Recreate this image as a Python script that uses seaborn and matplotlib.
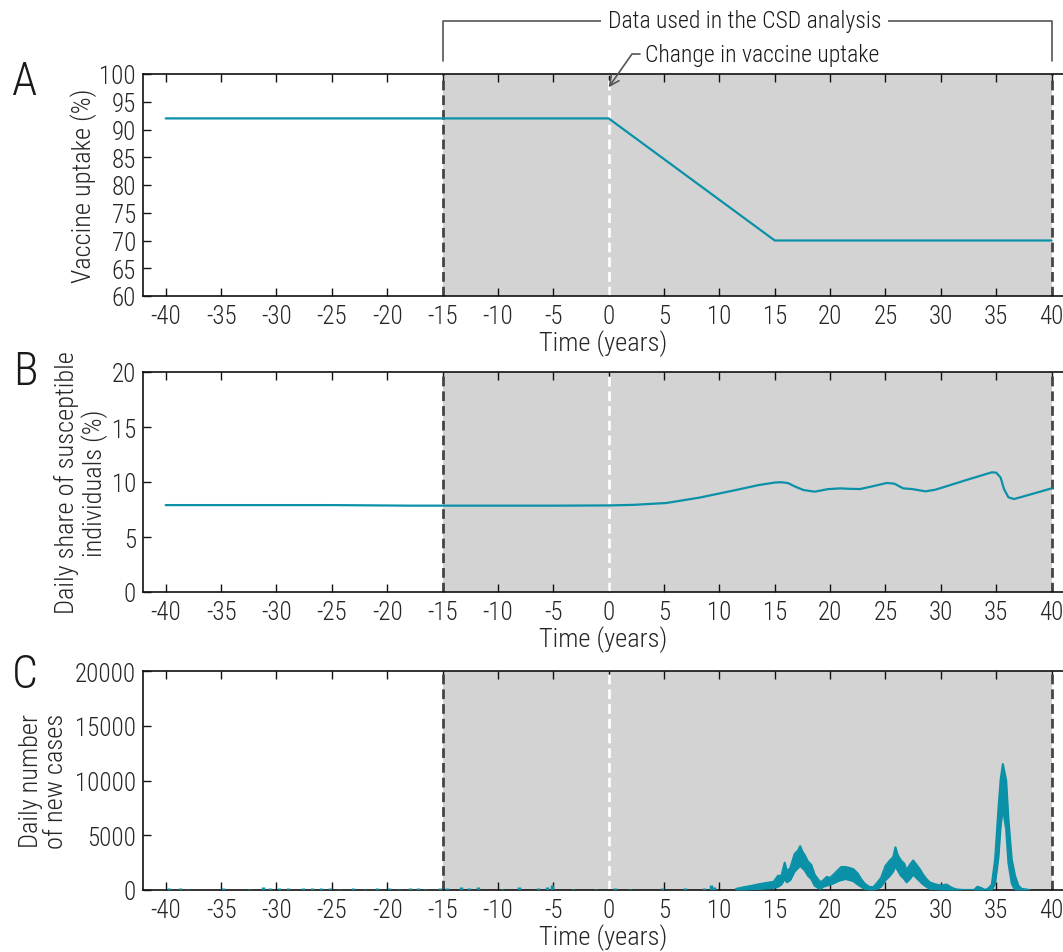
import matplotlib
matplotlib.use("Agg")
import matplotlib.pyplot as plt
import seaborn as sns
from matplotlib import font_manager
from matplotlib.transforms import blended_transform_factory

# ---- data ----
uptake_t = [-40, 0, 15, 40]
uptake_pct = [92, 92, 70, 70]

susc_t = [-40, -30, -25, -22, -18, -10, -5, 0, 2.2, 5.2, 8.2, 11.2, 13.6, 15.0,
          15.6, 16.2, 16.8, 17.6, 18.6, 19.8, 20.9, 21.8, 22.7, 23.8, 25.1, 25.8,
          26.6, 27.4, 28.6, 29.5, 30.5, 32.4, 34.6, 35.0, 35.4, 35.7, 36.1, 36.6,
          37.5, 40]
susc_pct = [7.9, 7.9, 7.9, 7.88, 7.85, 7.85, 7.85, 7.87, 7.92, 8.09, 8.58, 9.21,
            9.73, 9.95, 9.98, 9.9, 9.6, 9.27, 9.12, 9.35, 9.42, 9.38, 9.36, 9.6,
            9.91, 9.85, 9.42, 9.36, 9.15, 9.3, 9.61, 10.21, 10.88, 10.85, 10.4,
            9.36, 8.61, 8.45, 8.7, 9.42]

# daily cases: noisy band (upper / lower envelope) plus small early blips
cases_t = [11.5, 12.2, 13.0, 13.7, 14.3, 14.9, 15.3, 15.6, 15.9, 16.1, 16.4, 16.8,
           17.1, 17.3, 17.5, 17.7, 18.0, 18.3, 18.6, 18.9, 19.1, 19.4, 19.7, 20.0,
           20.3, 20.7, 21.0, 21.4, 21.8, 22.1, 22.5, 22.8, 23.1, 23.5, 23.9, 24.2,
           24.6, 25.0, 25.4, 25.7, 25.9, 26.1, 26.4, 26.7, 26.9, 27.2, 27.5, 27.8,
           28.1, 28.4, 28.7, 29.0, 29.4, 30.0, 30.5, 31.0, 31.4, 32.0, 33.0, 33.3,
           33.6, 34.0, 34.3, 34.6, 34.9, 35.2, 35.4, 35.6, 35.9, 36.1, 36.4, 36.7,
           37.0, 37.3, 38.0]
cases_hi = [100, 250, 400, 550, 650, 750, 1300, 1300, 2500, 1700, 2000, 3300,
            3600, 4000, 3500, 3200, 2600, 2300, 1400, 1000, 700, 900, 1200, 1100,
            1400, 1800, 2100, 2100, 2000, 1900, 1500, 1000, 600, 300, 250, 600,
            1100, 2200, 2700, 3000, 3900, 3200, 2700, 2400, 1800, 2300, 2700, 2300,
            1900, 1400, 1000, 700, 550, 400, 500, 200, 50, 0, 0, 300,
            200, 0, 150, 500, 2800, 7400, 10100, 11500, 10000, 6500, 2800, 1300,
            400, 100, 0]
cases_lo = [0, 0, 50, 100, 150, 200, 300, 500, 1000, 700, 900, 1700,
            2000, 2200, 2000, 1800, 1300, 1000, 400, 200, 100, 300, 400, 500,
            600, 800, 900, 1000, 900, 800, 500, 300, 100, 0, 0, 100,
            300, 900, 1300, 1700, 2200, 1800, 1300, 1000, 700, 1000, 1400, 1100,
            800, 500, 300, 100, 50, 0, 0, 0, 0, 0, 0, 0,
            0, 0, 0, 0, 600, 3000, 5800, 7500, 5500, 2500, 600, 0,
            0, 0, 0]
blip_t = [-39.7, -38.7, -38.0, -34.8, -32.5, -31.2, -30.6, -29.8, -29.0, -27.6,
          -26.8, -26.0, -25.2, -24.3, -23.1, -22.0, -20.9, -19.8, -18.9, -17.9,
          -17.2, -16.6, -15.2, -14.6, -13.3, -12.6, -11.8, -9.6, -8.1, -6.4,
          -5.6, -5.1, -3.2, -1.1, 0.6, 1.9, 4.8, 6.9, 8.6, 9.2, 9.5]
blip_h = [150, 200, 100, 200, 100, 250, 200, 150, 150, 200, 200, 150, 200, 100,
          150, 100, 150, 150, 100, 200, 200, 100, 150, 200, 300, 150, 250, 100,
          300, 200, 300, 450, 100, 100, 150, 100, 150, 150, 200, 450, 250]

x_ticks = list(range(-40, 41, 5))

TEAL = "#0a91a8"
SHADE = "#d3d3d3"
DARK_DASH = "#454545"

# ---- style ----
sns.set_style("ticks")
names = {f.name for f in font_manager.fontManager.ttflist}
family, weight = "Roboto", "light"
for cand, w in [("Roboto Condensed", "light"), ("Liberation Sans Narrow", "normal")]:
    if cand in names:
        family, weight = cand, w
        break
plt.rcParams["font.family"] = [family, "DejaVu Sans"]
plt.rcParams["font.weight"] = weight
plt.rcParams["axes.labelweight"] = weight
plt.rcParams["axes.unicode_minus"] = False
plt.rcParams["font.size"] = 18
plt.rcParams["text.color"] = "#1a1a1a"

W, H = 1063, 953
fig = plt.figure(figsize=(W / 100, H / 100), dpi=100)


def add_panel(top, bottom):
    left = 143
    return fig.add_axes([left / W, 1 - bottom / H, (W - left) / W, (bottom - top) / H])


ax_a = add_panel(75, 297)
ax_b = add_panel(373, 593)
ax_c = add_panel(672, 891)

for ax in (ax_a, ax_b, ax_c):
    ax.axvspan(-15, 40, color=SHADE, lw=0, zorder=0)
    ax.axvline(-15, color=DARK_DASH, ls=(0, (3.5, 1.8)), lw=2, zorder=1)
    ax.axvline(40, color=DARK_DASH, ls=(0, (3.5, 1.8)), lw=2, zorder=1)
    ax.axvline(0, color="white", ls=(0, (3.5, 1.8)), lw=2, zorder=1)

sns.lineplot(x=uptake_t, y=uptake_pct, ax=ax_a, color=TEAL, lw=1.6, zorder=3)
sns.lineplot(x=susc_t, y=susc_pct, ax=ax_b, color=TEAL, lw=1.6, zorder=3)

ax_c.fill_between(cases_t, cases_lo, cases_hi, color=TEAL, lw=0, zorder=3)
sns.lineplot(x=cases_t, y=cases_hi, ax=ax_c, color=TEAL, lw=1.5, zorder=3)
sns.lineplot(x=cases_t, y=cases_lo, ax=ax_c, color=TEAL, lw=1.5, zorder=3)
ax_c.vlines(blip_t, 0, blip_h, color=TEAL, lw=2.5, zorder=3)

ax_a.set_ylim(60, 100)
ax_a.set_yticks(range(60, 101, 5))
ax_b.set_ylim(0, 20)
ax_b.set_yticks(range(0, 21, 5))
ax_c.set_ylim(0, 20000)
ax_c.set_yticks(range(0, 20001, 5000))

ylabels = [(ax_a, "Vaccine uptake (%)", -0.05),
           (ax_b, "Daily share of susceptible\nindividuals (%)", -0.038),
           (ax_c, "Daily number\nof new cases", -0.081)]
for ax, lab, xpos in ylabels:
    ax.set_xlim(-42.05, 41.03)
    ax.set_xticks(x_ticks)
    ax.set_xlabel("Time (years)", fontsize=19, labelpad=1)
    ax.set_ylabel(lab, fontsize=19, linespacing=1.1)
    ax.yaxis.set_label_coords(xpos, 0.5)
    ax.tick_params(axis="x", direction="in", top=True, length=6, width=1,
                   labelsize=18, pad=6, color="#111")
    ax.tick_params(axis="y", direction="in", length=6, width=1,
                   labelsize=18, pad=5, color="#111")
    ax.spines["right"].set_visible(False)
    for s in ("left", "bottom", "top"):
        ax.spines[s].set_linewidth(1.2)
        ax.spines[s].set_color("#111")

# panel letters
for letter, ycen in [("A", 82), ("B", 372), ("C", 675)]:
    fig.text(25 / W, 1 - ycen / H, letter, fontsize=33, ha="center", va="center")

# top bracket and annotations
blend = blended_transform_factory(ax_a.transData, ax_a.transAxes)
ax_a.plot([-15, -15, 40, 40], [1.059, 1.239, 1.239, 1.059], transform=blend,
          clip_on=False, color="#555555", lw=1.2)
ax_a.text(12.3, 1.239, "Data used in the CSD analysis", transform=blend,
          ha="center", va="center", fontsize=17,
          bbox=dict(fc="white", ec="none", pad=5))
ax_a.annotate("Change in vaccine uptake", xy=(0, 0.94), xycoords=blend,
              xytext=(3.25, 1.09), textcoords=blend, ha="left", va="center",
              fontsize=17,
              arrowprops=dict(arrowstyle="->", color="#555555", lw=1.2,
                              shrinkA=1, shrinkB=0, relpos=(0, 0.5),
                              connectionstyle="angle,angleA=0,angleB=55,rad=0"))

fig.savefig("out.png", dpi=100)
